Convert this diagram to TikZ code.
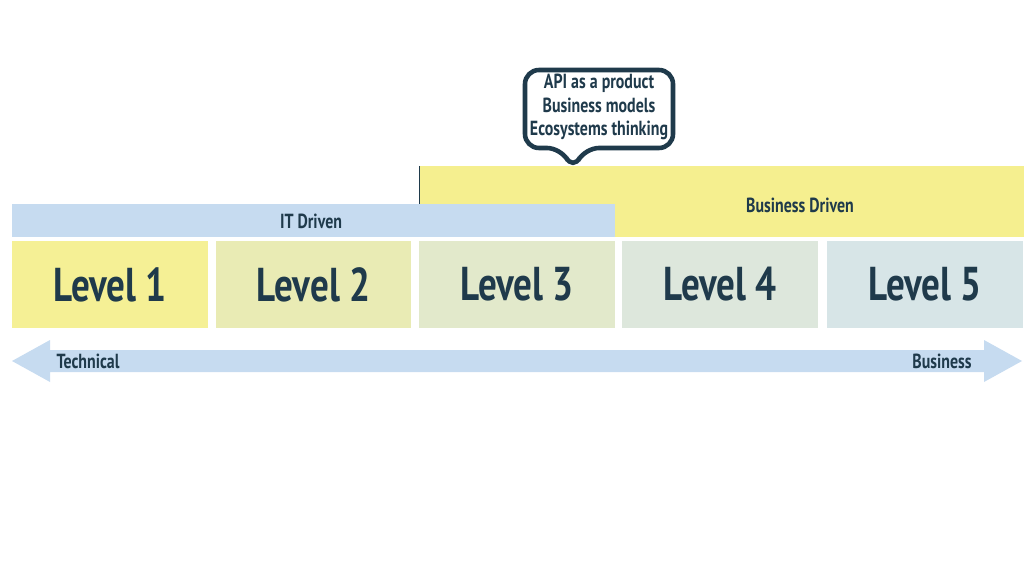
\documentclass[tikz,border=0pt]{standalone}
\usepackage{fontspec}
\setmainfont{PT Sans}
\usetikzlibrary{positioning}
\definecolor{ink}{HTML}{1F3A4B}
\definecolor{itblue}{HTML}{C6DBF0}
\definecolor{bizyel}{HTML}{F5EF8F}
\newcommand{\narrow}[1]{\scalebox{0.78}[1]{#1}}
\begin{document}
\begin{tikzpicture}[x=0.01cm, y=-0.01cm,
  small/.style={text=ink, font=\bfseries\fontsize{5.8}{6.6}\selectfont, inner sep=0pt},
  lvl/.style={fill=#1, draw=none, minimum width=1.95cm, minimum height=0.87cm,
    text=ink, font=\bfseries\fontsize{13.5}{15}\selectfont, inner sep=0pt}]
\useasboundingbox (0,0) rectangle (1024,576);
% bands
\fill[bizyel] (419,166) rectangle (1024,237);
\draw[ink, very thin] (419,166) -- (419,204);
\fill[itblue] (12,204) rectangle (615,237);
\node[small] (it) at (311,221) {\narrow{IT Driven}};
\node[small] (biz) at (800,205) {\narrow{Business Driven}};
% levels
\node[lvl=bizyel!95!white] (l1) at (110,284.5) {\narrow{Level 1}};
\node[lvl=bizyel!70!itblue!90!white] (l2) at (313.5,284.5) {\narrow{Level 2}};
\node[lvl=bizyel!48!itblue!85!white] (l3) at (517,284.5) {\narrow{Level 3}};
\node[lvl=bizyel!30!itblue!80!white] (l4) at (720,284.5) {\narrow{Level 4}};
\node[lvl=bizyel!15!itblue!80!white] (l5) at (925,284.5) {\narrow{Level 5}};
% axis
\fill[itblue] (12,361) -- (50,340) -- (50,350) -- (984,350) -- (984,340) -- (1022,361)
  -- (984,382) -- (984,372) -- (50,372) -- (50,382) -- cycle;
\node[small] (tech) at (88,361) {\narrow{Technical}};
\node[small] (busi) at (942,361) {\narrow{Business}};
% callout
\draw[ink, line width=1.3pt, fill=white, rounded corners=0.14cm]
  (525,70) -- (673,70) -- (673,148) -- (585,148) -- (573,170) -- (561,148) -- (525,148) -- cycle;
\node[small, align=center] (note) at (599,107)
  {\narrow{API as a product}\\\narrow{Business models}\\\narrow{Ecosystems thinking}};
\end{tikzpicture}
\end{document}
